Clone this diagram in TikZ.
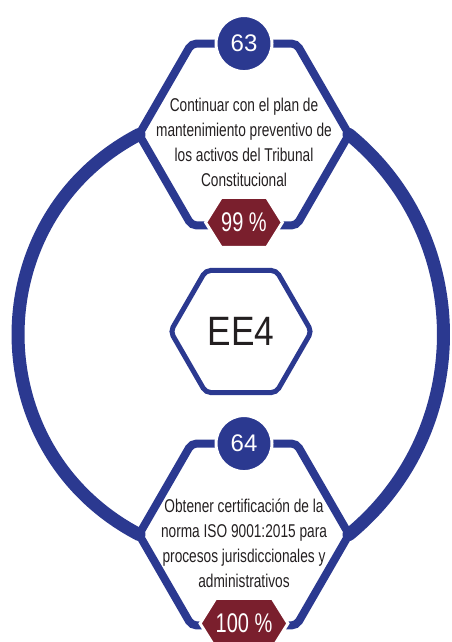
\documentclass[tikz,border=0pt]{standalone}
\usepackage{fontspec}
\setmainfont{Liberation Sans}
\newfontfamily\condfont[FakeStretch=0.74]{Liberation Sans}
\newfontfamily\eefont[FakeStretch=0.86]{Liberation Sans}
\usepackage{tikz}
\usetikzlibrary{shapes.geometric,shapes.symbols,positioning}
\definecolor{planblue}{RGB}{43,57,144}
\definecolor{pctred}{RGB}{122,31,45}
\definecolor{txtgray}{RGB}{35,31,32}

\begin{document}
\begin{tikzpicture}[x=1pt, y=1pt,
  hexa/.style={regular polygon, regular polygon sides=6, draw=planblue,
               inner sep=0pt, outer sep=0pt, rounded corners=5pt},
  objbox/.style={hexa, line width=8pt, minimum size=210pt},
  eebox/.style={hexa, line width=5pt, minimum size=141pt, text=txtgray,
                font=\eefont\fontsize{41}{41}\selectfont},
  numdot/.style={circle, fill=planblue, draw=white, line width=3pt, minimum size=56pt,
                 inner sep=0pt, text=white, font=\fontsize{24}{24}\selectfont},
  pct/.style={signal, signal to=east and west, signal pointer angle=116,
              fill=pctred, draw=white, line width=3pt, minimum width=73pt,
              minimum height=50pt, inner sep=0pt, text=white,
              font=\condfont\fontsize{27}{27}\selectfont},
  txt/.style={align=center, text=txtgray, font=\condfont\fontsize{18.5}{25}\selectfont},
  ring/.style={draw=planblue, line width=13pt, line cap=round}]
\useasboundingbox (0,0) rectangle (451,-642);
\node[objbox] (h63) at (244,-134.5) {};
\node[eebox] (ee4) at (241,-331.5) {EE4};
\node[objbox] (h64) at (244,-534.5) {};
\draw[ring] (h63.west) .. controls +(207.6:182pt) and +(152.4:182pt) .. (h64.west);
\draw[ring] (h63.east) .. controls +(-39.4:163pt) and +(39.4:163pt) .. (h64.east);
\node[txt, yshift=-8pt] (t63) at (h63) {Continuar con el plan de\\mantenimiento preventivo de\\los activos del Tribunal\\Constitucional};
\node[txt, yshift=-9pt] (t64) at (h64) {Obtener certificación de la\\norma ISO 9001:2015 para\\procesos jurisdiccionales y\\administrativos};
\node[numdot] (n63) at (h63.north) {63};
\node[numdot] (n64) at (h64.north) {64};
\node[pct, yshift=3pt] (p63) at (h63.south) {99 \%};
\node[pct, yshift=2pt] (p64) at (h64.south) {100 \%};
\end{tikzpicture}
\end{document}
